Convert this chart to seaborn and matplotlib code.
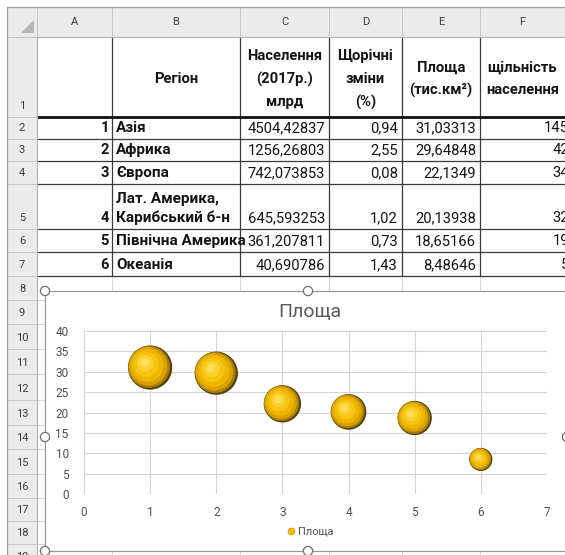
import numpy as np
import pandas as pd
import matplotlib
matplotlib.use("Agg")
import matplotlib.pyplot as plt
import seaborn as sns
from matplotlib.path import Path
from matplotlib.markers import MarkerStyle
from matplotlib.patches import Rectangle, Circle, Polygon
from matplotlib.lines import Line2D

# ---------------- data ----------------
column_letters = ["A", "B", "C", "D", "E", "F"]
header_B = ["Регіон"]
header_C = ["Населення", "(2017р.)", "млрд"]
header_D = ["Щорічні", "зміни", "(%)"]
header_E = ["Площа", "(тис.км²)"]
header_F = ["щільність", "населення"]
region_index = [1, 2, 3, 4, 5, 6]
regions = ["Азія", "Африка", "Європа", "Лат. Америка,\nКарибський б-н",
           "Північна Америка", "Океанія"]
population = [4504.42837, 1256.26803, 742.073853, 645.593253, 361.207811, 40.690786]
annual_change = [0.94, 2.55, 0.08, 1.02, 0.73, 1.43]
area = [31.03313, 29.64848, 22.1349, 20.13938, 18.65166, 8.48646]
density = [145, 42, 34, 32, 19, 5]
chart_title = "Площа"
series_name = "Площа"
x_ticks = [0, 1, 2, 3, 4, 5, 6, 7]
y_ticks = [0, 5, 10, 15, 20, 25, 30, 35, 40]

# ---------------- style ----------------
sns.set_style("white")
plt.rcParams["font.family"] = ["Roboto", "DejaVu Sans"]

W, H = 565, 555
fig = plt.figure(figsize=(W / 100, H / 100), dpi=100)
bg = fig.add_axes([0, 0, 1, 1])
bg.set_xlim(0, W)
bg.set_ylim(H, 0)
bg.axis("off")

col_edges = [37, 112, 240, 329, 402, 480, 565]
row_bounds = [37, 117, 139, 161, 184, 229, 252, 276, 300, 324, 349, 374,
              400, 425, 449, 474, 498, 521, 544, 568]

def fmt(v):
    return str(v).replace(".", ",")

# light sheet gridlines
for x in col_edges[1:-1]:
    bg.plot([x, x], [37, H], color="#d6d6d6", lw=0.7, zorder=1)
for y in row_bounds:
    bg.plot([37, W], [y, y], color="#d6d6d6", lw=0.7, zorder=1)

# dark table borders
for x in col_edges[1:-1]:
    bg.plot([x, x], [37, 276], color="#3a3a3a", lw=0.9, zorder=2)
for y in [139, 161, 184, 229, 252, 276]:
    bg.plot([37, W], [y, y], color="#3a3a3a", lw=0.9, zorder=2)
bg.plot([37, W], [117, 117], color="#111111", lw=2.0, zorder=2)

# headers (column letters / row numbers)
bg.add_patch(Rectangle((7, 7), W - 7, 30, fc="#ebebeb", ec="none", zorder=3))
bg.add_patch(Rectangle((7, 37), 30, H - 37, fc="#ebebeb", ec="none", zorder=3))
for x in col_edges[:-1]:
    bg.plot([x, x], [8, 37], color="#c4c4c4", lw=0.7, zorder=4)
for y in row_bounds:
    bg.plot([7, 37], [y, y], color="#c4c4c4", lw=0.7, zorder=4)
bg.plot([37, W], [37, 37], color="#b4b4b4", lw=0.8, zorder=4)
bg.plot([37, 37], [37, H], color="#b4b4b4", lw=0.8, zorder=4)
bg.plot([7, W], [7, 7], color="#a0a0a0", lw=0.9, zorder=4)
bg.plot([7, 7], [7, H], color="#a0a0a0", lw=0.9, zorder=4)
bg.add_patch(Polygon([(34, 20), (34, 33), (21, 33)], closed=True,
                     fc="#b8b8b8", ec="none", zorder=4))
for i, letter in enumerate(column_letters):
    cx = (col_edges[i] + col_edges[i + 1]) / 2
    bg.text(cx, 22, letter, ha="center", va="center", fontsize=8,
            color="#3c3c3c", zorder=5)
for i in range(len(row_bounds) - 1):
    bg.text(22, row_bounds[i + 1] - 11, str(i + 1), ha="center", va="center",
            fontsize=8, color="#3c3c3c", zorder=5)

TXT = "#141414"
FS = 10.6
# row 1 headers
hdr = {1: header_B, 2: header_C, 3: header_D, 4: header_E, 5: header_F}
for ci, lines in hdr.items():
    cx = (col_edges[ci] + col_edges[ci + 1]) / 2
    n = len(lines)
    for k, line in enumerate(lines):
        cy = 79 + (k - (n - 1) / 2) * 23
        bg.text(cx, cy, line, ha="center", va="center", fontsize=FS,
                fontweight="bold", color=TXT, zorder=5)

# data rows
clipB = Rectangle((col_edges[1], 117), col_edges[2] - col_edges[1] - 3, 160,
                  transform=bg.transData, visible=False)
bg.add_patch(clipB)
for r in range(len(regions)):
    yb = row_bounds[r + 2] - 11
    bg.text(col_edges[1] - 3, yb, str(region_index[r]), ha="right", va="center",
            fontsize=FS, fontweight="bold", color=TXT, zorder=5)
    lines = regions[r].split("\n")
    for k, line in enumerate(reversed(lines)):
        t = bg.text(col_edges[1] + 4, yb - 19 * k, line, ha="left", va="center",
                    fontsize=FS + 0.4, fontweight="bold", color=TXT, zorder=5)
        t.set_clip_path(clipB)
    bg.text(col_edges[3] - 4, yb, fmt(population[r]), ha="right", va="center",
            fontsize=FS, color=TXT, zorder=5)
    bg.text(col_edges[4] - 4, yb, fmt(annual_change[r]), ha="right", va="center",
            fontsize=FS, color=TXT, zorder=5)
    bg.text(col_edges[5] - 4, yb, fmt(area[r]), ha="right", va="center",
            fontsize=FS, color=TXT, zorder=5)
    bg.text(W + 4, yb, str(density[r]), ha="right", va="center",
            fontsize=FS, color=TXT, zorder=5)

# chart box with selection handles
bg.add_patch(Rectangle((45, 291), 600, 260, fc="white", ec="#9a9a9a",
                       lw=0.9, zorder=6))
for hx, hy in [(45, 291), (308, 291), (45, 437), (45, 551), (308, 551), (567, 437)]:
    bg.add_patch(Circle((hx, hy), 4.6, fc="white", ec="#6e6e6e", lw=0.9, zorder=7))

fig.text(310 / W, 1 - 312 / H, chart_title, ha="center", va="center",
         fontsize=14, color="#595959", zorder=8)

# ---------------- bubble chart ----------------
L, R, T, B = 84, 547, 331, 494
ax = fig.add_axes([L / W, 1 - B / H, (R - L) / W, (B - T) / H])
ax.set_zorder(5)
ax.patch.set_alpha(0)

df = pd.DataFrame({"region": regions, "x": region_index, "area": area})

def sphere_marker(dx, dy, r):
    anchors = Path([(1.0, 1.0), (-1.0, -1.0)], [Path.MOVETO, Path.MOVETO])
    circ = Path.circle(center=(dx, dy), radius=r)
    return MarkerStyle(Path.make_compound_path(anchors, circ))

SMAX = 1010
layers = [
    (0.00, -0.03, 1.12, "#ffd84a", 0.30),
    (0.00, -0.01, 1.05, "#f2c230", 0.35),
    (0.00, 0.00, 1.00, "#4f4212", 1.0),
    (-0.05, 0.03, 0.95, "#a87f06", 1.0),
    (-0.09, 0.06, 0.87, "#d9a200", 1.0),
    (-0.13, 0.10, 0.74, "#eeb600", 1.0),
    (-0.17, 0.14, 0.56, "#f6c512", 1.0),
    (-0.21, 0.19, 0.38, "#fbd12e", 1.0),
    (-0.24, 0.23, 0.20, "#ffde5c", 1.0),
]
for dx, dy, r, col, a in layers:
    sns.scatterplot(data=df, x="x", y="area", size="area", sizes=(0, SMAX),
                    size_norm=(0, max(area)), marker=sphere_marker(dx, dy, r),
                    color=col, alpha=a, edgecolor="none", linewidth=0,
                    legend=False, ax=ax, zorder=3)

ax.set_xlim(x_ticks[0], x_ticks[-1])
ax.set_ylim(y_ticks[0], y_ticks[-1])
ax.set_xticks(x_ticks)
ax.set_yticks(y_ticks)
ax.grid(True, color="#d4d4d4", lw=0.8)
ax.set_axisbelow(True)
for s in ax.spines.values():
    s.set_visible(False)
ax.tick_params(axis="both", length=0, labelsize=8.5, labelcolor="#4f4f4f")
ax.tick_params(axis="x", pad=9)
ax.tick_params(axis="y", pad=11)
ax.set_xlabel("")
ax.set_ylabel("")

handle = Line2D([], [], marker="o", ls="", markersize=5,
                mfc="#f0b800", mec="#c99a00", mew=0.5)
ax.legend(handles=[handle], labels=[series_name], loc="center",
          bbox_to_anchor=(310 / W, 1 - 532 / H), bbox_transform=fig.transFigure,
          frameon=False, fontsize=7.8, labelcolor="#4f4f4f",
          handletextpad=0.2, handlelength=0.8, borderpad=0)

fig.savefig("out.png", dpi=100)
